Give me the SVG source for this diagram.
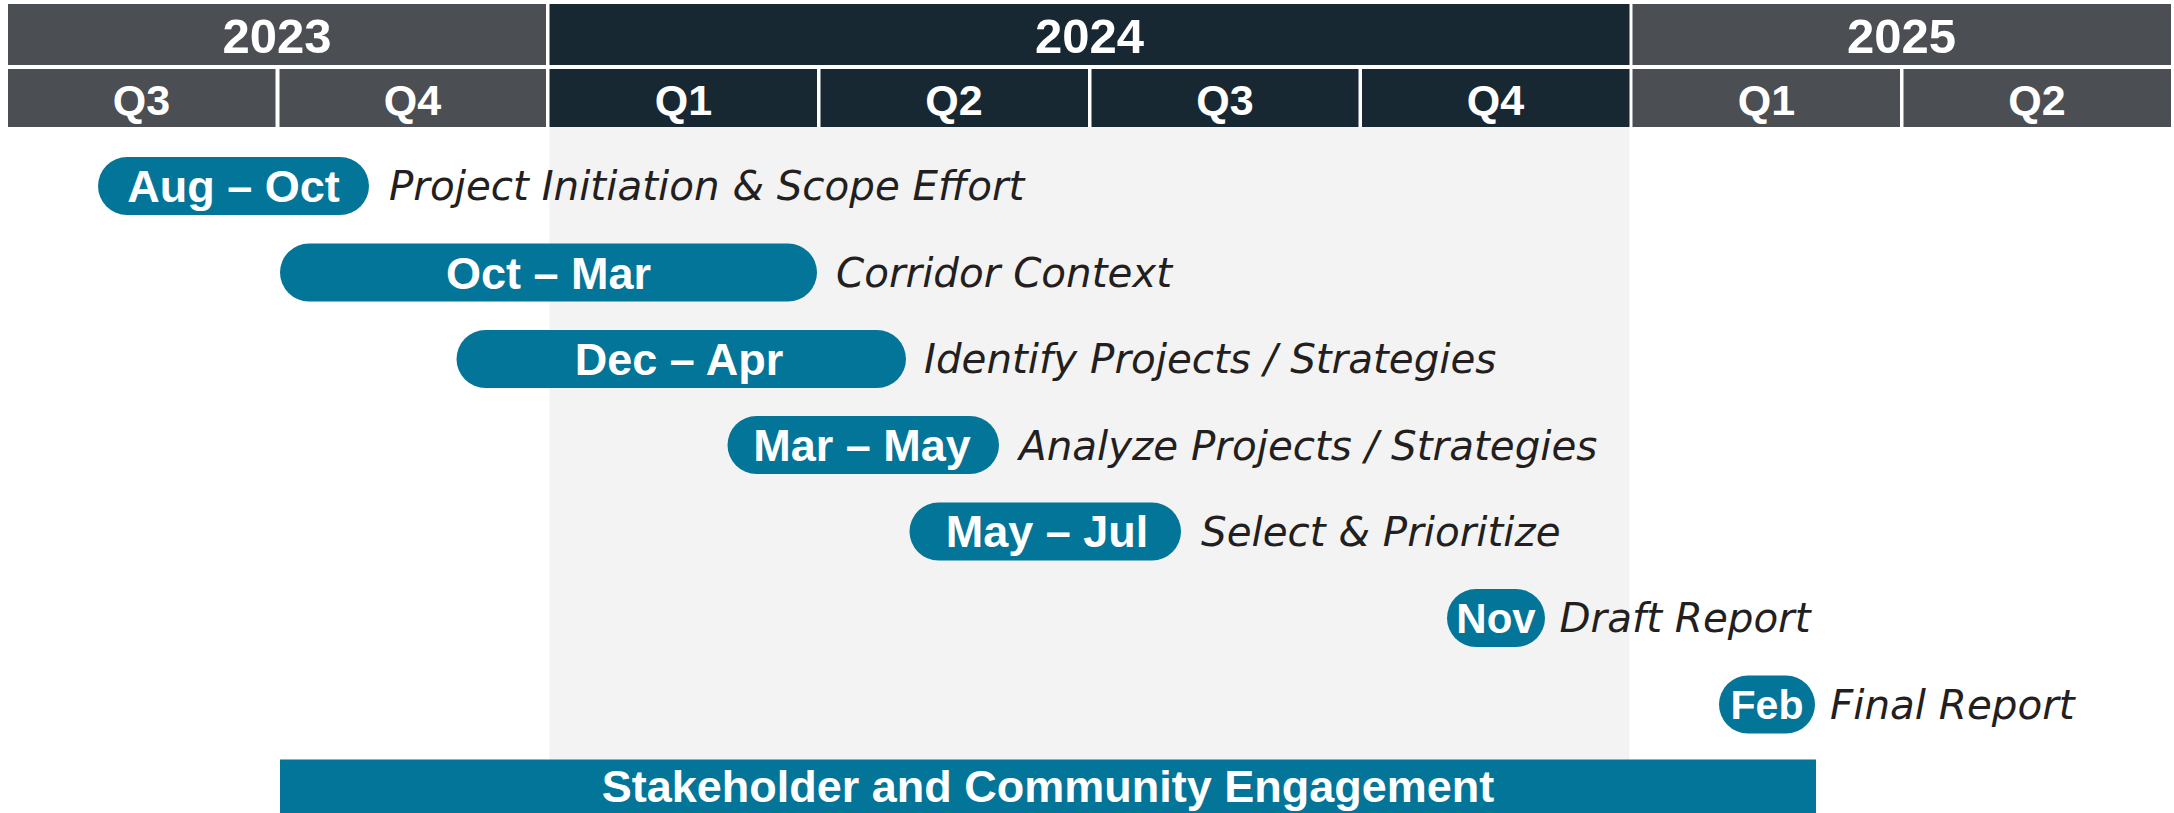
<svg xmlns="http://www.w3.org/2000/svg" width="2174" height="813" viewBox="0 0 2174 813">
<style>
.yr{fill:#4b4e53}
.yr24{fill:#182833}
.hd{font-family:"Liberation Sans",Arial,sans-serif;font-weight:bold;fill:#ffffff;text-anchor:middle}
.pill{fill:#037598}
.pt{font-family:"Liberation Sans",Arial,sans-serif;font-weight:bold;fill:#ffffff;text-anchor:middle;font-size:45px}
.lb{font-family:"DejaVu Sans","Liberation Sans",sans-serif;font-style:italic;fill:#231f20;font-size:40.4px}
</style>
<rect x="0" y="0" width="2174" height="813" fill="#ffffff"/>
<rect id="shade" x="549.5" y="127" width="1080" height="633" fill="#f3f3f3"/>
<g id="header">
  <g id="y2023"><rect class="yr" x="8" y="4" width="538" height="61"/><text class="hd" x="277" y="52.5" font-size="49">2023</text></g>
  <g id="y2024"><rect class="yr24" x="549.5" y="4" width="1080" height="61"/><text class="hd" x="1089.5" y="52.5" font-size="49">2024</text></g>
  <g id="y2025"><rect class="yr" x="1632.5" y="4" width="538.5" height="61"/><text class="hd" x="1901.5" y="52.5" font-size="49">2025</text></g>
  <g id="q2023q3"><rect class="yr" x="8" y="69" width="267.5" height="58"/><text class="hd" x="141.5" y="115" font-size="43">Q3</text></g>
  <g id="q2023q4"><rect class="yr" x="279.5" y="69" width="266.5" height="58"/><text class="hd" x="412.5" y="115" font-size="43">Q4</text></g>
  <g id="q2024q1"><rect class="yr24" x="549.5" y="69" width="267.5" height="58"/><text class="hd" x="683.5" y="115" font-size="43">Q1</text></g>
  <g id="q2024q2"><rect class="yr24" x="820.5" y="69" width="267.5" height="58"/><text class="hd" x="954" y="115" font-size="43">Q2</text></g>
  <g id="q2024q3"><rect class="yr24" x="1091.5" y="69" width="267" height="58"/><text class="hd" x="1225" y="115" font-size="43">Q3</text></g>
  <g id="q2024q4"><rect class="yr24" x="1362" y="69" width="267.5" height="58"/><text class="hd" x="1495.5" y="115" font-size="43">Q4</text></g>
  <g id="q2025q1"><rect class="yr" x="1632.5" y="69" width="267.5" height="58"/><text class="hd" x="1766.5" y="115" font-size="43">Q1</text></g>
  <g id="q2025q2"><rect class="yr" x="1903.5" y="69" width="267.5" height="58"/><text class="hd" x="2037" y="115" font-size="43">Q2</text></g>
</g>
<g id="connectors"></g>
<g id="task1">
  <rect class="pill" x="98" y="157" width="271" height="58" rx="29"/>
  <text class="pt" x="233.5" y="202">Aug – Oct</text>
  <text class="lb" x="389" y="200">Project Initiation &amp; Scope Effort</text>
</g>
<g id="task2">
  <rect class="pill" x="280" y="243.5" width="537" height="58" rx="29"/>
  <text class="pt" x="548.5" y="288.5">Oct – Mar</text>
  <text class="lb" x="836" y="286.5">Corridor Context</text>
</g>
<g id="task3">
  <rect class="pill" x="456.5" y="330" width="449.5" height="58" rx="29"/>
  <text class="pt" x="679" y="375">Dec – Apr</text>
  <text class="lb" x="924" y="373">Identify Projects / Strategies</text>
</g>
<g id="task4">
  <rect class="pill" x="727.5" y="416" width="271.5" height="58" rx="29"/>
  <text class="pt" x="862" y="461">Mar – May</text>
  <text class="lb" x="1019" y="459.5">Analyze Projects / Strategies</text>
</g>
<g id="task5">
  <rect class="pill" x="909.5" y="502.5" width="271.5" height="58" rx="29"/>
  <text class="pt" x="1047" y="547">May – Jul</text>
  <text class="lb" x="1201" y="546">Select &amp; Prioritize</text>
</g>
<g id="task6">
  <rect class="pill" x="1447" y="589" width="98" height="58" rx="29"/>
  <text class="pt" x="1496" y="632.5" style="font-size:42px">Nov</text>
  <text class="lb" x="1559.5" y="632">Draft Report</text>
</g>
<g id="task7">
  <rect class="pill" x="1719" y="675.5" width="96" height="58" rx="29"/>
  <text class="pt" x="1767" y="719" style="font-size:41px">Feb</text>
  <text class="lb" x="1830" y="718.5">Final Report</text>
</g>
<g id="engagement">
  <rect class="pill" x="280" y="759.5" width="1536" height="60"/>
  <text class="pt" x="1048" y="801.5">Stakeholder and Community Engagement</text>
</g>
</svg>
